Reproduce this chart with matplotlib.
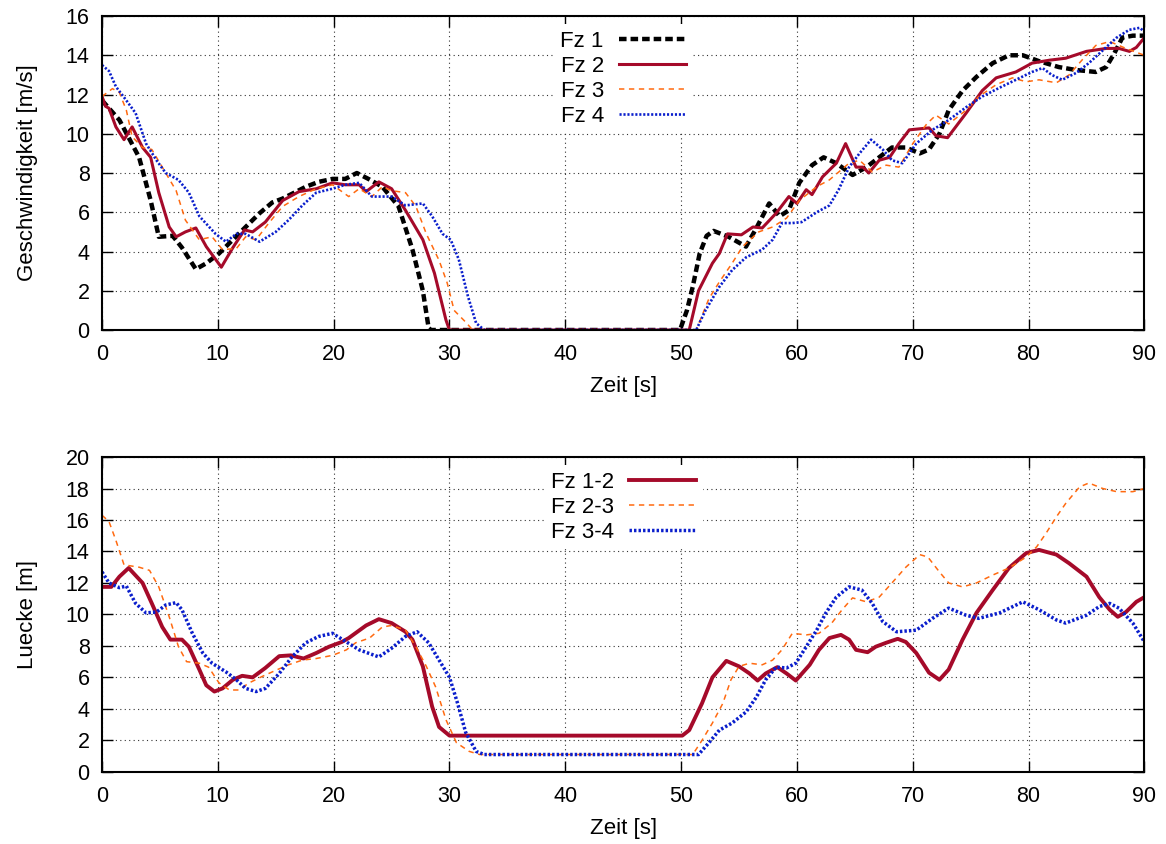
import matplotlib
matplotlib.use("Agg")
import matplotlib.pyplot as plt

# --- Geschwindigkeit (top) ---
t_fz1 = [0, 1.5, 3.2, 4.2, 4.9, 6.1, 6.9, 8.1, 9.0, 10.1, 11.8, 13.6, 14.7, 15.6, 17.6, 18.7, 19.9, 21.0,
         22.0, 23.0, 24.2, 25.6, 26.8, 27.7, 28.2, 28.4, 49.9, 50.5, 51.0, 51.6, 52.2, 52.8, 54.1, 55.6,
         56.5, 57.6, 58.5, 59.3, 60.2, 61.3, 62.3, 63.4, 64.8, 66.0, 67.1, 68.2, 69.4, 70.6, 71.4, 72.3,
         73.1, 74.3, 75.5, 76.9, 78.3, 79.5, 80.9, 82.6, 84.1, 85.8, 86.7, 87.4, 88.1, 89.0, 90]
v_fz1 = [11.7, 10.7, 8.8, 6.6, 4.75, 4.8, 4.2, 3.1, 3.4, 3.9, 4.9, 5.95, 6.5, 6.7, 7.3, 7.55, 7.7, 7.7,
         8.0, 7.7, 7.3, 6.3, 4.1, 2.0, 0.1, 0, 0, 1.0, 2.2, 3.9, 4.8, 5.05, 4.75, 4.25,
         5.2, 6.45, 5.8, 6.1, 7.5, 8.4, 8.8, 8.5, 7.9, 8.3, 8.8, 9.3, 9.3, 9.0, 9.2, 10.0,
         11.2, 12.2, 12.9, 13.6, 14.0, 14.0, 13.7, 13.4, 13.25, 13.15, 13.4, 14.1, 14.9, 15.0, 15.0]

t_fz2 = [0, 0.3, 0.6, 1.2, 1.9, 2.6, 3.5, 4.2, 4.9, 5.8, 6.4, 7.2, 8.1, 9.0, 10.3, 11.3, 12.3, 13.0, 14.1,
         15.6, 17.0, 18.5, 19.9, 21.0, 22.2, 22.8, 23.9, 25.0, 26.2, 27.7, 28.7, 29.7, 30.0, 50.7, 51.5,
         52.7, 53.3, 54.0, 55.2, 56.2, 57.0, 58.2, 59.3, 60.0, 60.8, 61.3, 62.2, 63.4, 64.2, 65.1, 65.7,
         66.2, 67.1, 68.0, 68.8, 69.7, 71.4, 72.0, 73.0, 74.6, 76.0, 77.2, 78.9, 80.3, 81.8, 83.2, 85.0,
         86.7, 87.8, 88.7, 89.3, 90]
v_fz2 = [11.9, 11.4, 11.3, 10.35, 9.7, 10.35, 9.3, 8.8, 7.0, 5.25, 4.75, 5.0, 5.2, 4.25, 3.2, 4.2, 5.1, 5.0, 5.5,
         6.6, 7.05, 7.2, 7.5, 7.4, 7.4, 7.05, 7.55, 7.2, 6.1, 4.6, 2.9, 0.5, 0, 0, 2.0,
         3.4, 3.9, 4.9, 4.85, 5.25, 5.2, 5.95, 6.8, 6.45, 7.15, 6.9, 7.8, 8.5, 9.5, 8.3, 8.3,
         8.0, 8.65, 8.8, 9.5, 10.2, 10.3, 9.9, 9.8, 11.05, 12.2, 12.85, 13.15, 13.6, 13.75, 13.85, 14.2,
         14.35, 14.35, 14.2, 14.4, 14.9]

t_fz3 = [0, 0.9, 1.5, 2.1, 2.6, 3.5, 4.3, 5.5, 6.4, 7.2, 8.4, 9.5, 10.4, 11.6, 12.4, 13.3, 14.4, 15.6, 17.0,
         18.5, 19.9, 21.3, 22.2, 23.3, 24.2, 25.0, 26.2, 27.1, 28.0, 29.1, 29.8, 30.4, 31.4, 32.0, 51.3,
         52.4, 53.3, 54.4, 55.3, 56.7, 57.9, 59.1, 60.2, 61.7, 62.8, 63.6, 64.5, 65.4, 66.5, 67.7, 68.8,
         70.0, 71.2, 72.0, 73.1, 74.6, 75.7, 77.2, 78.6, 79.8, 80.9, 82.4, 83.5, 84.6, 85.8, 87.0, 88.4, 90]
v_fz3 = [11.9, 12.3, 12.1, 11.2, 9.85, 9.3, 9.2, 8.0, 7.1, 5.6, 4.6, 4.75, 4.1, 4.15, 4.75, 4.6, 5.45, 6.3, 6.8,
         7.2, 7.4, 6.8, 7.2, 6.8, 7.3, 7.1, 7.0, 6.3, 4.9, 3.55, 2.4, 1.0, 0.4, 0, 0,
         1.6, 2.45, 3.4, 4.25, 5.0, 5.25, 5.7, 6.6, 7.3, 7.65, 8.05, 8.5, 8.65, 8.05, 8.4, 8.3,
         9.5, 10.5, 10.95, 10.5, 11.2, 11.9, 12.5, 12.85, 12.65, 12.75, 12.6, 13.0, 13.75, 14.5, 14.7, 14.35, 14.0]

t_fz4 = [0, 0.6, 1.2, 2.1, 2.9, 3.8, 4.7, 5.5, 6.6, 7.5, 8.4, 9.8, 10.7, 11.6, 12.4, 13.6, 15.0, 16.1, 17.3,
         18.5, 19.9, 21.0, 22.2, 23.3, 24.5, 25.0, 26.2, 27.7, 28.5, 29.4, 30.1, 30.8, 31.6, 32.3, 33.0,
         51.3, 52.1, 53.3, 54.4, 55.6, 57.0, 57.9, 58.7, 59.6, 60.4, 61.7, 62.8, 63.6, 64.5, 65.4, 66.4,
         67.4, 68.2, 69.1, 70.3, 71.7, 73.1, 74.6, 76.0, 77.5, 78.9, 80.3, 81.2, 82.0, 82.9, 84.1, 85.2,
         86.4, 87.6, 88.7, 89.6, 90]
v_fz4 = [13.5, 13.2, 12.4, 11.7, 11.05, 9.5, 8.65, 8.0, 7.65, 7.0, 5.8, 4.9, 4.5, 4.9, 4.9, 4.5, 5.0, 5.6, 6.35,
         7.0, 7.2, 7.4, 7.5, 6.8, 6.8, 6.8, 6.35, 6.45, 5.8, 4.9, 4.6, 3.6, 1.7, 0.35, 0,
         0, 1.0, 2.2, 3.05, 3.7, 4.1, 4.6, 5.45, 5.45, 5.5, 6.0, 6.35, 7.15, 8.3, 9.0, 9.7,
         9.2, 8.65, 8.5, 9.5, 10.2, 10.7, 11.35, 11.9, 12.35, 12.75, 13.15, 13.35, 13.0, 12.75, 13.1, 13.6,
         14.25, 14.9, 15.3, 15.4, 15.2]

# --- Luecke (bottom) ---
t_g12 = [0, 0.8, 1.5, 2.3, 3.5, 4.3, 5.2, 5.9, 6.9, 7.5, 8.4, 9.0, 9.7, 10.4, 11.3, 12.1, 13.0, 14.1, 15.3,
         16.3, 17.4, 18.5, 19.6, 20.7, 21.3, 22.8, 23.9, 25.0, 26.2, 26.8, 27.7, 28.5, 29.1, 30.0, 50.1,
         50.7, 51.8, 52.7, 53.9, 55.0, 55.9, 56.6, 57.3, 58.3, 59.1, 59.9, 61.1, 61.9, 62.8, 63.8, 64.5,
         65.1, 66.1, 66.8, 67.7, 68.7, 69.4, 70.3, 71.4, 72.3, 73.1, 74.3, 75.5, 76.9, 78.3, 79.8, 80.9,
         82.4, 83.5, 85.0, 86.1, 87.0, 87.7, 88.4, 89.3, 90]
v_g12 = [11.75, 11.75, 12.4, 12.95, 12.0, 10.7, 9.2, 8.4, 8.4, 7.95, 6.5, 5.5, 5.1, 5.3, 5.85, 6.1, 6.0, 6.6, 7.35,
         7.4, 7.2, 7.55, 7.95, 8.25, 8.5, 9.3, 9.7, 9.45, 8.9, 8.4, 6.7, 4.15, 2.85, 2.3, 2.3,
         2.65, 4.35, 6.0, 7.05, 6.7, 6.25, 5.8, 6.25, 6.65, 6.25, 5.8, 6.8, 7.75, 8.5, 8.7, 8.4,
         7.75, 7.6, 7.95, 8.2, 8.45, 8.25, 7.55, 6.3, 5.85, 6.5, 8.4, 10.1, 11.55, 12.95, 13.9, 14.1,
         13.8, 13.25, 12.4, 11.1, 10.3, 9.85, 10.15, 10.8, 11.1]

t_g23 = [0, 0.6, 1.2, 1.9, 3.2, 4.1, 4.9, 5.8, 6.6, 7.3, 8.4, 9.2, 10.1, 11.0, 11.8, 12.7, 13.8, 15.0, 16.1,
         17.3, 18.5, 19.9, 21.1, 21.9, 23.1, 24.2, 25.0, 26.2, 27.1, 28.0, 28.8, 29.7, 30.6, 31.7, 32.6,
         51.0, 51.8, 52.7, 53.6, 54.3, 55.0, 55.9, 57.0, 57.9, 58.7, 59.6, 60.8, 61.9, 63.0, 63.9, 64.8,
         66.0, 67.1, 68.2, 69.4, 70.6, 71.3, 72.3, 73.1, 74.3, 75.5, 76.9, 78.3, 79.8, 80.7, 81.5, 82.4,
         83.2, 84.4, 85.2, 86.4, 87.6, 89.0, 90]
v_g23 = [16.3, 15.9, 14.7, 13.15, 13.0, 12.8, 11.75, 9.85, 7.95, 7.0, 6.9, 6.65, 5.65, 5.2, 5.2, 5.65, 6.05, 6.45, 6.8,
         7.1, 7.2, 7.4, 7.75, 8.2, 8.5, 9.2, 9.3, 9.0, 7.95, 6.7, 5.4, 3.3, 1.85, 1.3, 1.1,
         1.1, 2.0, 3.1, 4.35, 5.85, 6.7, 6.9, 6.8, 7.1, 7.75, 8.8, 8.7, 8.8, 9.45, 10.3, 11.05,
         10.8, 11.1, 12.0, 13.0, 13.8, 13.65, 12.7, 12.0, 11.75, 12.0, 12.5, 12.95, 13.65, 14.3, 15.15, 16.2,
         17.05, 18.1, 18.35, 18.0, 17.8, 17.8, 18.0]

t_g34 = [0, 0.6, 1.5, 2.1, 2.9, 3.8, 4.7, 5.5, 6.4, 6.9, 7.8, 8.7, 9.5, 10.7, 11.6, 12.4, 13.3, 14.1, 15.3,
         16.4, 17.6, 18.7, 19.9, 21.1, 22.2, 23.9, 25.0, 26.2, 27.2, 28.2, 29.1, 30.0, 30.7, 31.4, 32.3,
         33.0, 51.5, 52.4, 53.3, 54.4, 55.6, 56.5, 57.3, 58.2, 59.1, 59.9, 60.8, 61.7, 62.5, 63.4, 64.5,
         65.6, 66.5, 67.4, 68.6, 70.3, 71.7, 73.1, 74.6, 75.7, 77.5, 79.5, 80.9, 82.4, 83.2, 85.0, 86.1,
         87.0, 87.8, 89.0, 90]
v_g34 = [12.7, 12.0, 11.7, 11.8, 10.7, 10.1, 10.15, 10.6, 10.75, 10.3, 8.8, 7.55, 6.9, 6.35, 5.85, 5.3, 5.1, 5.3, 6.25,
         7.3, 8.2, 8.6, 8.8, 8.25, 7.75, 7.3, 7.85, 8.6, 8.9, 8.2, 7.1, 6.0, 4.35, 2.5, 1.3,
         1.1, 1.1, 1.85, 2.65, 3.1, 3.8, 4.75, 5.85, 6.65, 6.6, 6.9, 7.95, 9.0, 10.1, 11.1, 11.75,
         11.55, 10.7, 9.55, 8.9, 9.0, 9.75, 10.4, 9.95, 9.75, 10.1, 10.8, 10.3, 9.65, 9.45, 9.95, 10.5,
         10.7, 10.4, 9.45, 8.25]

RED = '#a50a2a'
ORANGE = '#ff6a10'
BLUE = '#0a1ecc'

plt.rcParams['font.family'] = ['Liberation Sans', 'DejaVu Sans']
plt.rcParams['font.size'] = 16

fig = plt.figure(figsize=(11.66, 8.44), dpi=100)
ax1 = fig.add_axes([0.0875, 0.609, 0.894, 0.372])
ax2 = fig.add_axes([0.0875, 0.0855, 0.894, 0.373])

ax1.plot(t_fz1, v_fz1, color='black', lw=3.2, dashes=(1.7, 0.9), label='Fz 1')
ax1.plot(t_fz2, v_fz2, color=RED, lw=2.2, label='Fz 2')
ax1.plot(t_fz3, v_fz3, color=ORANGE, lw=1.1, dashes=(3.5, 3), label='Fz 3')
ax1.plot(t_fz4, v_fz4, color=BLUE, lw=1.9, dashes=(0.8, 0.7), label='Fz 4')

ax2.plot(t_g12, v_g12, color=RED, lw=2.8, label='Fz 1-2')
ax2.plot(t_g23, v_g23, color=ORANGE, lw=1.1, dashes=(3.5, 3), label='Fz 2-3')
ax2.plot(t_g34, v_g34, color=BLUE, lw=2.5, dashes=(0.7, 0.6), label='Fz 3-4')

for ax, ymax, ylab in ((ax1, 16, 'Geschwindigkeit [m/s]'), (ax2, 20, 'Luecke [m]')):
    ax.set_xlim(0, 90)
    ax.set_ylim(0, ymax)
    ax.set_xticks(range(0, 91, 10))
    ax.set_yticks(range(0, ymax + 1, 2))
    ax.grid(True, color='#333333', lw=0.8, linestyle=(0, (1, 3)))
    ax.tick_params(direction='in', top=True, right=True, length=8, width=1, labelsize=15.5)
    ax.tick_params(axis='x', pad=10)
    ax.tick_params(axis='y', pad=9)
    for s in ax.spines.values():
        s.set_linewidth(1.5)
    ax.set_xlabel('Zeit [s]', labelpad=8)
    ax.set_ylabel(ylab, labelpad=20)
    ax.legend(loc='upper center', bbox_to_anchor=(0.5, 1.01), markerfirst=False,
              frameon=True, facecolor='white', edgecolor='none', framealpha=1,
              handlelength=3.0, handletextpad=0.7, labelspacing=0.18,
              borderpad=0.3, fancybox=False)

fig.savefig('out.png', dpi=100)
